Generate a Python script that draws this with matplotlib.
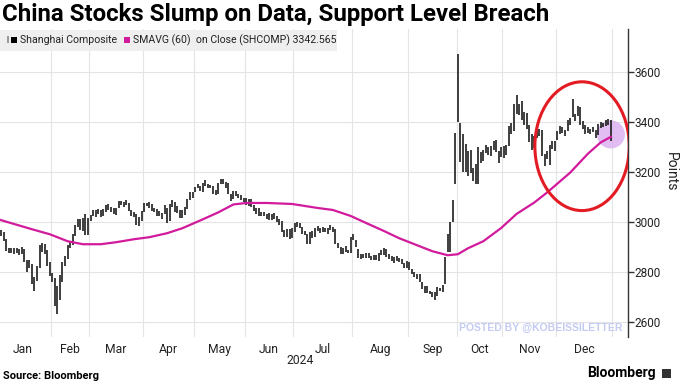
import numpy as np
import matplotlib.pyplot as plt
import matplotlib.transforms as mtransforms
from matplotlib.patches import Ellipse, Rectangle

plt.rcParams['font.family'] = ['Roboto', 'DejaVu Sans']

months = ["Jan", "Feb", "Mar", "Apr", "May", "Jun", "Jul", "Aug", "Sep", "Oct", "Nov", "Dec"]
days_per_month = [22, 15, 21, 20, 20, 19, 23, 22, 19, 18, 21, 22]

# daily Shanghai Composite bars (2024 trading days)
close = [2962, 2967, 2954, 2929, 2888, 2893, 2878, 2887, 2882, 2886, 2894, 2846, 2832, 2833, 2756, 2771, 2821, 2906, 2910, 2883, 2831, 2789,
         2771, 2730, 2702, 2789, 2830, 2866, 2911, 2923, 2951, 2988, 3005, 2977, 3015, 2958, 3015,
         3027, 3039, 3048, 3040, 3027, 3046, 3068, 3056, 3044, 3038, 3055, 3085, 3080, 3079, 3077, 3048, 3026, 3031, 2993, 3011, 3041,
         3077, 3075, 3069, 3047, 3049, 3027, 3034, 3019, 3057, 3007, 3071, 3074, 3065, 3045, 3022, 3045, 3053, 3089, 3113, 3105,
         3141, 3148, 3128, 3154, 3155, 3148, 3146, 3120, 3122, 3154, 3171, 3158, 3159, 3116, 3089, 3124, 3110, 3111, 3092, 3087,
         3078, 3091, 3065, 3049, 3051, 3028, 3037, 3029, 3033, 3016, 3030, 3018, 3005, 2998, 2963, 2950, 2973, 2946, 2967,
         2995, 2997, 2982, 2958, 2950, 2922, 2959, 2939, 2970, 2971, 2974, 2976, 2963, 2977, 2982, 2964, 2915, 2902, 2886, 2891, 2892, 2879, 2939,
         2932, 2905, 2861, 2867, 2870, 2870, 2862, 2858, 2868, 2851, 2877, 2879, 2894, 2867, 2857, 2849, 2854, 2856, 2849, 2837, 2823, 2842,
         2811, 2803, 2784, 2788, 2766, 2736, 2744, 2722, 2717, 2704, 2717, 2736, 2737, 2749, 2863, 2896, 3001, 3088, 3337,
         3490, 3259, 3302, 3218, 3284, 3201, 3203, 3169, 3262, 3268, 3286, 3303, 3280, 3300, 3322, 3286, 3266, 3280,
         3272, 3310, 3387, 3384, 3471, 3452, 3470, 3422, 3439, 3380, 3331, 3324, 3346, 3368, 3370, 3267, 3264, 3260, 3310, 3296, 3326,
         3364, 3379, 3365, 3369, 3404, 3403, 3423, 3432, 3462, 3392, 3386, 3361, 3382, 3370, 3368, 3351, 3394, 3393, 3398, 3400, 3407, 3352]

low = [2952, 2950, 2946, 2924, 2886, 2876, 2876, 2874, 2876, 2870, 2873, 2842, 2802, 2816, 2752, 2724, 2767, 2816, 2880, 2874, 2826, 2786,
       2760, 2666, 2635, 2690, 2763, 2826, 2853, 2898, 2910, 2945, 2980, 2971, 2966, 2950, 2948,
       3004, 3025, 3023, 3032, 3020, 3025, 3041, 3048, 3040, 3034, 3030, 3058, 3071, 3063, 3070, 3045, 3024, 3021, 2991, 2986, 3006,
       3043, 3064, 3058, 3045, 3040, 3024, 3024, 3014, 3032, 2996, 3005, 3063, 3043, 3038, 3019, 3017, 3031, 3052, 3089, 3098,
       3121, 3138, 3124, 3121, 3147, 3136, 3136, 3115, 3111, 3113, 3152, 3153, 3139, 3112, 3086, 3094, 3105, 3099, 3089, 3080,
       3068, 3066, 3060, 3046, 3035, 3024, 3024, 3026, 3013, 3008, 3010, 3014, 3001, 2991, 2960, 2940, 2941, 2933, 2938,
       2963, 2982, 2978, 2955, 2948, 2915, 2912, 2937, 2940, 2965, 2958, 2963, 2961, 2954, 2968, 2961, 2913, 2898, 2872, 2875, 2882, 2876, 2876,
       2928, 2903, 2856, 2853, 2858, 2856, 2858, 2848, 2850, 2848, 2846, 2868, 2870, 2862, 2853, 2845, 2839, 2846, 2841, 2833, 2816, 2818,
       2808, 2795, 2780, 2772, 2763, 2734, 2717, 2716, 2712, 2703, 2689, 2705, 2724, 2722, 2752, 2880, 2883, 3000, 3152,
       3403, 3241, 3200, 3203, 3184, 3199, 3167, 3152, 3152, 3238, 3246, 3276, 3268, 3265, 3288, 3283, 3239, 3260,
       3258, 3268, 3305, 3352, 3367, 3433, 3430, 3411, 3388, 3374, 3323, 3291, 3298, 3338, 3344, 3265, 3227, 3254, 3228, 3292, 3285,
       3328, 3355, 3356, 3347, 3364, 3388, 3422, 3407, 3427, 3390, 3375, 3354, 3357, 3353, 3362, 3337, 3350, 3379, 3383, 3385, 3391, 3325]

high = [2976, 2969, 2970, 2960, 2932, 2896, 2898, 2896, 2898, 2892, 2900, 2895, 2850, 2848, 2832, 2780, 2825, 2910, 2918, 2915, 2890, 2840,
        2797, 2777, 2747, 2790, 2842, 2867, 2911, 2926, 2954, 2989, 3012, 3012, 3016, 3033, 3016,
        3029, 3049, 3050, 3055, 3051, 3052, 3070, 3074, 3063, 3058, 3058, 3087, 3087, 3081, 3091, 3077, 3050, 3043, 3035, 3020, 3044,
        3078, 3079, 3080, 3073, 3058, 3054, 3045, 3038, 3070, 3056, 3072, 3090, 3080, 3067, 3048, 3050, 3060, 3092, 3120, 3122,
        3143, 3152, 3147, 3156, 3171, 3152, 3149, 3146, 3128, 3158, 3174, 3175, 3162, 3158, 3115, 3125, 3127, 3114, 3110, 3097,
        3097, 3093, 3092, 3070, 3057, 3057, 3042, 3042, 3035, 3036, 3033, 3036, 3025, 3012, 3004, 2969, 2974, 2974, 2976,
        2996, 3000, 2997, 2980, 2964, 2954, 2961, 2967, 2978, 2984, 2976, 2981, 2977, 2979, 2990, 2982, 2973, 2919, 2901, 2899, 2904, 2891, 2940,
        2954, 2928, 2895, 2875, 2873, 2876, 2876, 2866, 2870, 2870, 2879, 2890, 2896, 2895, 2872, 2865, 2860, 2866, 2858, 2852, 2836, 2847,
        2842, 2814, 2800, 2795, 2793, 2763, 2746, 2744, 2727, 2723, 2720, 2741, 2739, 2750, 2863, 2952, 3001, 3088, 3358,
        3674, 3398, 3353, 3314, 3285, 3290, 3216, 3233, 3300, 3280, 3288, 3311, 3300, 3304, 3324, 3331, 3285, 3300,
        3307, 3311, 3387, 3396, 3472, 3510, 3473, 3485, 3441, 3437, 3390, 3352, 3347, 3369, 3374, 3371, 3273, 3285, 3311, 3325, 3327,
        3364, 3384, 3380, 3370, 3411, 3419, 3495, 3433, 3465, 3461, 3407, 3389, 3383, 3373, 3383, 3371, 3394, 3401, 3399, 3409, 3414, 3411]

# 60-day simple moving average, read at intervals (trading-day index, value)
ma_day = [1, 14, 21, 28, 34, 41, 47, 54, 60, 67, 73, 80, 87, 93, 98, 106, 116, 126, 132, 139,
          145, 152, 158, 165, 171, 177, 181, 185, 191, 198, 204, 211, 216, 225, 232, 237, 241]
ma_value = [3012, 2973, 2953, 2925, 2913, 2913, 2921, 2933, 2941, 2957, 2977, 3008, 3040, 3072, 3078, 3078, 3074, 3058, 3050, 3026,
            2998, 2966, 2937, 2909, 2885, 2869, 2873, 2897, 2925, 2978, 3034, 3080, 3120, 3199, 3275, 3320, 3342.565]

yticks = [2600, 2800, 3000, 3200, 3400, 3600]

day = np.arange(len(close))
ends = np.cumsum(days_per_month)
starts = ends - np.array(days_per_month)
month_mid = (starts + ends - 1) / 2
month_bounds = ends - 0.5

fig = plt.figure(figsize=(6.8, 3.83), dpi=100)
ax = fig.add_axes([0, 0.1201, 0.9235, 0.8044])

ax.vlines(day, low, high, color='#1e1e1e', lw=1.2, zorder=3)
ax.plot(ma_day, ma_value, color='#d21a9c', lw=1.6, zorder=4)

ax.set_xlim(1.5, 247.7)
ax.set_ylim(2542, 3774)

# highlight around the recent range and the last print
ax.add_patch(Ellipse((day[-1], close[-1]), 11, 112, fc='#dcb2f2', ec='none', alpha=0.85, zorder=2))
ax.add_patch(Ellipse((229.7, 3305), 37, 515, fill=False, ec='#e31b23', lw=2.2, zorder=5))

for s in ['top', 'left', 'bottom']:
    ax.spines[s].set_visible(False)
ax.spines['right'].set_color('#333333')
ax.spines['right'].set_linewidth(1.0)

ax.yaxis.tick_right()
ax.set_yticks(yticks)
ax.tick_params(axis='y', length=4, width=1, color='#333333', labelsize=8.5, labelcolor='#222222', pad=1)
ax.set_xticks(month_mid)
ax.set_xticklabels(months)
ax.set_xticks(month_bounds, minor=True)
ax.tick_params(axis='x', which='both', length=0, labelsize=8.7, labelcolor='#222222', pad=4)
ax.grid(axis='y', which='major', color='#e4e4e4', lw=0.8)
ax.grid(axis='x', which='minor', color='#e4e4e4', lw=0.8)
ax.set_axisbelow(True)

trans = mtransforms.blended_transform_factory(ax.transData, fig.transFigure)
ax.text(119, 1 - 361 / 383, "2024", transform=trans, ha='center', va='center', fontsize=8.7, color='#222222')

fig.text(671 / 680, 1 - 172 / 383, "Points", rotation=-90, ha='center', va='center', fontsize=10, color='#222222')

fig.text(0.003, 1 - 15 / 383, "China Stocks Slump on Data, Support Level Breach",
         ha='left', va='center', fontsize=17.3, fontweight='bold', color='black')

# legend strip
fig.add_artist(Rectangle((0, 1 - 51 / 383), 337 / 680, 21 / 383, transform=fig.transFigure,
                         fc='#efefef', ec='none', zorder=6))
ly = 1 - 40 / 383
fig.add_artist(Rectangle((7 / 680, ly - 3 / 383), 1.5 / 680, 7 / 383, transform=fig.transFigure,
                         fc='#999999', ec='none', zorder=7))
fig.add_artist(Rectangle((11 / 680, ly - 3 / 383), 6 / 680, 6 / 383, transform=fig.transFigure,
                         fc='black', ec='none', zorder=7))
fig.text(20 / 680, ly, "Shanghai Composite", ha='left', va='center', fontsize=7.6, color='#222222', zorder=7)
fig.add_artist(Rectangle((124 / 680, ly - 3 / 383), 6 / 680, 6 / 383, transform=fig.transFigure,
                         fc='#d21a9c', ec='none', zorder=7))
fig.text(133 / 680, ly, "SMAVG (60)  on Close (SHCOMP) 3342.565", ha='left', va='center', fontsize=7.6,
         color='#222222', zorder=7)

fig.text(622 / 680, 1 - 328 / 383, "POSTED BY @KOBEISSILETTER", ha='right', va='center', fontsize=7.5,
         fontweight='bold', color='#c3cbf3', family=['Liberation Sans', 'DejaVu Sans'])

fig.text(3 / 680, 1 - 376 / 383, "Source: Bloomberg", ha='left', va='center', fontsize=8, fontweight='bold')
fig.text(656 / 680, 1 - 373 / 383, "Bloomberg", ha='right', va='center', fontsize=10, fontweight='bold')
fig.add_artist(Rectangle((662 / 680, 1 - 378 / 383), 9 / 680, 9 / 383, transform=fig.transFigure,
                         fc='#333333', ec='none'))

fig.savefig("out.png", dpi=100)
